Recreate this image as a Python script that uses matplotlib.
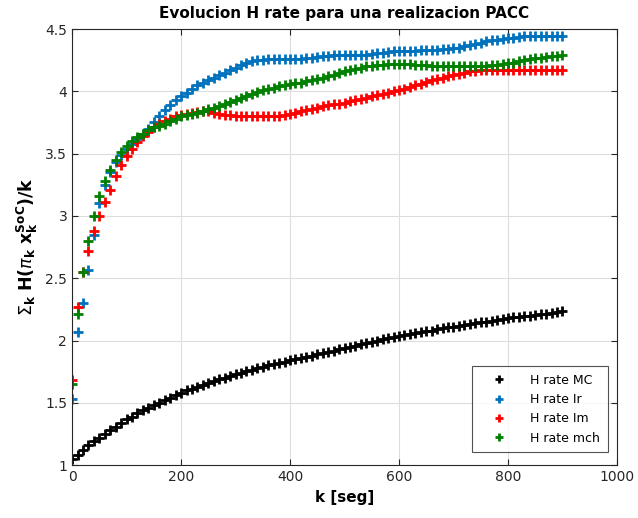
import numpy as np
import matplotlib
matplotlib.use("Agg")
import matplotlib.pyplot as plt

# time axis in seconds
k = list(range(0, 901, 10))

h_mc = [1.05, 1.08, 1.12, 1.16, 1.19, 1.22, 1.25, 1.28, 1.31, 1.34,
        1.37, 1.39, 1.42, 1.44, 1.46, 1.48, 1.50, 1.52, 1.54, 1.56,
        1.58, 1.60, 1.615, 1.63, 1.645, 1.66, 1.675, 1.69, 1.70, 1.715,
        1.73, 1.74, 1.755, 1.765, 1.78, 1.79, 1.80, 1.81, 1.82, 1.83,
        1.84, 1.85, 1.86, 1.87, 1.88, 1.89, 1.90, 1.91, 1.92, 1.93,
        1.94, 1.95, 1.96, 1.97, 1.98, 1.99, 2.00, 2.01, 2.02, 2.03,
        2.04, 2.045, 2.05, 2.06, 2.07, 2.075, 2.08, 2.09, 2.10, 2.105,
        2.11, 2.12, 2.125, 2.13, 2.14, 2.145, 2.15, 2.16, 2.165, 2.17,
        2.18, 2.185, 2.19, 2.195, 2.20, 2.205, 2.21, 2.215, 2.22, 2.23,
        2.24]

h_ir = [1.53, 2.07, 2.30, 2.57, 2.85, 3.10, 3.25, 3.35, 3.43, 3.49,
        3.54, 3.58, 3.62, 3.66, 3.70, 3.75, 3.80, 3.85, 3.89, 3.93,
        3.96, 3.99, 4.02, 4.05, 4.07, 4.09, 4.11, 4.13, 4.15, 4.17,
        4.19, 4.21, 4.225, 4.24, 4.25, 4.255, 4.26, 4.26, 4.26, 4.26,
        4.26, 4.26, 4.26, 4.265, 4.27, 4.275, 4.28, 4.285, 4.29, 4.29,
        4.29, 4.29, 4.29, 4.29, 4.295, 4.30, 4.305, 4.31, 4.315, 4.32,
        4.32, 4.32, 4.32, 4.325, 4.33, 4.33, 4.33, 4.335, 4.34, 4.34,
        4.345, 4.35, 4.36, 4.37, 4.38, 4.39, 4.40, 4.41, 4.415, 4.42,
        4.425, 4.43, 4.435, 4.44, 4.44, 4.44, 4.44, 4.44, 4.44, 4.44,
        4.44]

h_im = [1.68, 2.27, 2.55, 2.72, 2.88, 3.00, 3.11, 3.21, 3.32, 3.41,
        3.48, 3.54, 3.59, 3.64, 3.67, 3.71, 3.74, 3.76, 3.78, 3.80,
        3.81, 3.82, 3.83, 3.835, 3.84, 3.84, 3.83, 3.82, 3.81, 3.81,
        3.80, 3.80, 3.80, 3.80, 3.80, 3.80, 3.80, 3.80, 3.805, 3.81,
        3.82, 3.83, 3.84, 3.85, 3.86, 3.87, 3.88, 3.89, 3.895, 3.90,
        3.91, 3.92, 3.93, 3.94, 3.95, 3.96, 3.97, 3.98, 3.99, 4.00,
        4.01, 4.02, 4.035, 4.05, 4.06, 4.075, 4.09, 4.10, 4.11, 4.12,
        4.13, 4.14, 4.15, 4.16, 4.165, 4.17, 4.17, 4.175, 4.175, 4.175,
        4.175, 4.175, 4.175, 4.175, 4.175, 4.175, 4.175, 4.175, 4.175, 4.175,
        4.175]

h_mch = [1.65, 2.21, 2.55, 2.80, 3.00, 3.16, 3.28, 3.37, 3.45, 3.51,
         3.56, 3.60, 3.63, 3.66, 3.69, 3.71, 3.72, 3.74, 3.76, 3.78,
         3.80, 3.81, 3.82, 3.83, 3.84, 3.855, 3.87, 3.885, 3.90, 3.915,
         3.93, 3.945, 3.96, 3.98, 3.995, 4.01, 4.02, 4.03, 4.04, 4.05,
         4.06, 4.065, 4.07, 4.08, 4.09, 4.10, 4.11, 4.12, 4.13, 4.145,
         4.16, 4.17, 4.18, 4.19, 4.20, 4.205, 4.21, 4.215, 4.22, 4.22,
         4.22, 4.22, 4.22, 4.215, 4.21, 4.21, 4.205, 4.20, 4.20, 4.20,
         4.20, 4.20, 4.20, 4.20, 4.20, 4.20, 4.205, 4.21, 4.215, 4.22,
         4.225, 4.23, 4.24, 4.25, 4.26, 4.265, 4.27, 4.275, 4.28, 4.285,
         4.29]

series = [
    (h_mc, "H rate MC", "#000000"),
    (h_ir, "H rate Ir", "#0072BD"),
    (h_im, "H rate Im", "#FF0000"),
    (h_mch, "H rate mch", "#008000"),
]

fig = plt.figure(figsize=(6.38, 5.18), dpi=100)
ax = fig.add_axes([0.113, 0.102, 0.854, 0.842])

for vals, label, color in series:
    ax.plot(k, vals, linestyle="none", marker="+", markersize=7.5,
            markeredgewidth=2.0, color=color, label=label)

ax.set_xlim(0, 1000)
ax.set_ylim(1, 4.5)
ax.set_xticks(np.arange(0, 1001, 200))
ax.set_yticks([1, 1.5, 2, 2.5, 3, 3.5, 4, 4.5])
ax.set_yticklabels(["1", "1.5", "2", "2.5", "3", "3.5", "4", "4.5"])
ax.tick_params(direction="in", length=4, labelsize=10, colors="#262626",
               top=True, right=True)
ax.grid(True, color="#dddddd", linewidth=0.8)
ax.set_axisbelow(True)
for s in ax.spines.values():
    s.set_color("#262626")
    s.set_linewidth(0.8)

ax.set_title("Evolucion H rate para una realizacion PACC",
             fontsize=11, fontweight="bold", pad=8)
ax.set_xlabel("k [seg]", fontsize=11, fontweight="bold")
ax.set_ylabel(r"$\Sigma_{\mathbf{k}}\ \mathbf{H(}\pi_{\mathbf{k}}\ \mathbf{x_k^{SoC})/k}$",
              fontsize=12.5)

leg = ax.legend(loc="lower right", bbox_to_anchor=(0.983, 0.03),
                borderaxespad=0, fontsize=9, frameon=True, fancybox=False,
                edgecolor="#262626", handlelength=3.2, handletextpad=0.9,
                borderpad=0.6, markerscale=0.8)
leg.get_frame().set_linewidth(0.8)

fig.savefig("out.png", dpi=100)
